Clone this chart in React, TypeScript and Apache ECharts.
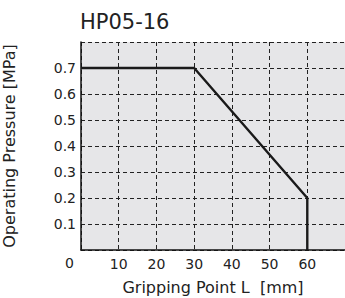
import React, { useEffect, useRef } from "react";
import * as echarts from "echarts";

const title = "HP05-16";
const xName = "Gripping Point L  [mm]";
const yName = "Operating Pressure [MPa]";
const gripPoints = [0, 30, 60, 60];
const pressures = [0.7, 0.7, 0.2, 0];
const originLabel = "0";

export default function App() {
  const ref = useRef<HTMLDivElement>(null);
  useEffect(() => {
    const chart = echarts.init(ref.current!, null, { renderer: "svg" });
    const font = "'DejaVu Sans', sans-serif";
    chart.setOption({
      animation: false,
      title: {
        text: title,
        left: 75,
        top: 6,
        textStyle: { fontSize: 21, fontWeight: "normal", color: "#222", fontFamily: font },
      },
      grid: {
        left: 81,
        top: 42,
        right: 0,
        bottom: 48,
        show: true,
        backgroundColor: "#e6e6e8",
        borderWidth: 0,
        containLabel: false,
        outerBoundsMode: "none",
      },
      xAxis: {
        type: "value",
        min: 0,
        max: 70,
        interval: 10,
        name: xName,
        nameLocation: "middle",
        nameGap: 29,
        nameTextStyle: { fontSize: 16, color: "#222", fontFamily: font },
        axisLine: { show: true, onZero: false, lineStyle: { color: "#111", width: 1.5 } },
        axisTick: { show: false },
        axisLabel: {
          fontSize: 14,
          color: "#222",
          fontFamily: font,
          margin: 7,
          formatter: (v: number) => (v === 0 || v === 70 ? "" : String(v)),
        },
        splitLine: { show: true, lineStyle: { color: "#222", type: [4, 3], width: 1 } },
      },
      yAxis: {
        type: "value",
        min: 0,
        max: 0.8,
        interval: 0.1,
        name: yName,
        nameLocation: "middle",
        nameGap: 64,
        nameTextStyle: { fontSize: 16, color: "#222", fontFamily: font },
        axisLine: { show: true, lineStyle: { color: "#111", width: 1.5 } },
        axisTick: { show: false },
        axisLabel: {
          fontSize: 14,
          color: "#222",
          fontFamily: font,
          margin: 5,
          formatter: (v: number) => (v < 0.05 || v > 0.75 ? "" : v.toFixed(1)),
        },
        splitLine: { show: true, lineStyle: { color: "#222", type: [4, 3], width: 1 } },
      },
      graphic: [
        {
          type: "text",
          left: 65,
          top: 256,
          style: { text: originLabel, fontSize: 14, fill: "#222", fontFamily: font },
        },
      ],
      series: [
        {
          type: "line",
          data: gripPoints.map((x, i) => [x, pressures[i]]),
          symbol: "none",
          lineStyle: { color: "#1a1a1a", width: 2.4 },
        },
      ],
    });
    return () => chart.dispose();
  }, []);
  return <div ref={ref} style={{ width: 345, height: 298, position: "absolute", left: 0, top: 0 }} />;
}
